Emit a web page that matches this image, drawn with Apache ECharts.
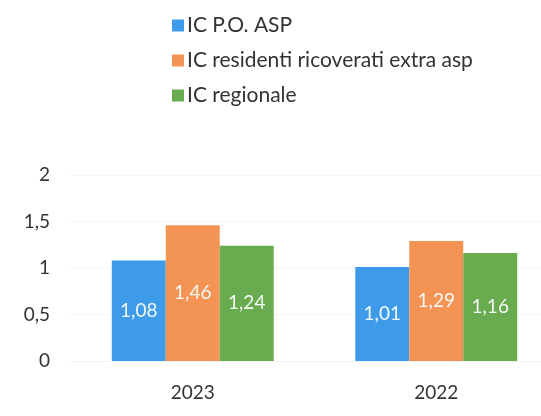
<!DOCTYPE html>
<html>
<head>
<meta charset="utf-8">
<script src="https://cdn.jsdelivr.net/npm/echarts@6/dist/echarts.min.js"></script>
<style>
  html, body { margin: 0; padding: 0; background: #fff; }
  #chart { width: 541px; height: 416px; }
</style>
</head>
<body>
<div id="chart"></div>
<script>
// dati
var categories = ['2023', '2022'];
var seriesNames = ['IC P.O. ASP', 'IC residenti ricoverati extra asp', 'IC regionale'];
var icPoAsp = [1.08, 1.01];
var icResidenti = [1.46, 1.29];
var icRegionale = [1.24, 1.16];
var yTicks = [0, 0.5, 1, 1.5, 2];

var colors = ['#3d9be9', '#f39455', '#69ac50'];
var fontFamily = 'Lato, "Open Sans", sans-serif';

var chart = echarts.init(document.getElementById('chart'));

function fmt(v) {
    return String(v).replace('.', ',');
}

function barSeries(name, data, color) {
    return {
        name: name,
        type: 'bar',
        data: data,
        barGap: '0%',
        barCategoryGap: '33.5%',
        itemStyle: { color: color },
        label: {
            show: true,
            position: 'inside',
            color: '#f4f8f4',
            fontSize: 19,
            fontFamily: fontFamily,
            formatter: function (p) { return fmt(p.value); }
        }
    };
}

chart.setOption({
    animation: false,
    color: colors,
    textStyle: { fontFamily: fontFamily },
    legend: {
        orient: 'vertical',
        left: 167,
        top: 10,
        itemWidth: 12,
        itemHeight: 12,
        itemGap: 14,
        icon: 'rect',
        data: seriesNames,
        textStyle: { color: '#333', fontSize: 21, fontFamily: fontFamily, padding: [0, 0, 0, -2] }
    },
    // l'area del grafico esce a destra oltre il bordo (immagine ritagliata)
    grid: { left: 71, width: 487, top: 175, bottom: 55, outerBoundsMode: 'none' },
    xAxis: {
        type: 'category',
        data: categories,
        axisLine: { show: true, lineStyle: { color: '#f2f2f2' } },
        axisTick: { show: false },
        axisLabel: { color: '#333', fontSize: 19, margin: 22, fontFamily: fontFamily }
    },
    yAxis: {
        type: 'value',
        min: yTicks[0],
        max: yTicks[yTicks.length - 1],
        interval: 0.5,
        axisLine: { show: false },
        axisTick: { show: false },
        splitLine: { lineStyle: { color: '#f6f6f6' } },
        axisLabel: { color: '#333', fontSize: 19, margin: 21, fontFamily: fontFamily, formatter: fmt }
    },
    series: [
        barSeries(seriesNames[0], icPoAsp, colors[0]),
        barSeries(seriesNames[1], icResidenti, colors[1]),
        barSeries(seriesNames[2], icRegionale, colors[2])
    ]
});
</script>
</body>
</html>
